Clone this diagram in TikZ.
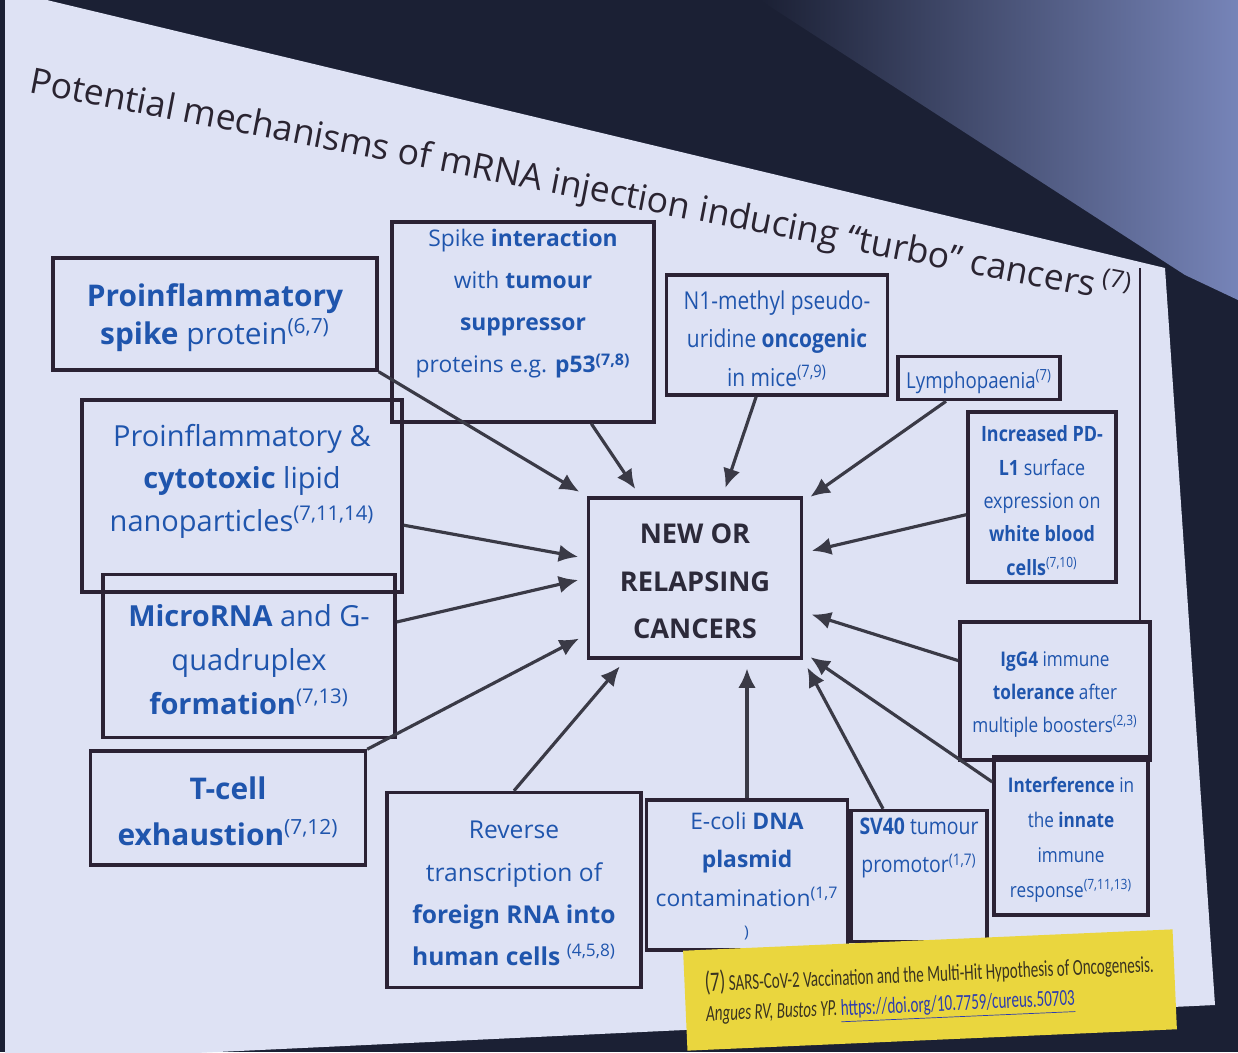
\documentclass[tikz,border=0pt]{standalone}
\usepackage{fontspec}
\setmainfont{Open Sans}
\newfontfamily\condsans[FakeStretch=0.85]{Open Sans}
\newfontfamily\notefont[FakeStretch=0.66]{Carlito}
\usetikzlibrary{arrows.meta}
\definecolor{bgdark}{HTML}{1B2034}
\definecolor{blurblue}{HTML}{7684B8}
\definecolor{slidebg}{HTML}{DEE2F4}
\definecolor{boxline}{HTML}{2B2234}
\definecolor{txtblue}{HTML}{1F55AD}
\definecolor{titlecol}{HTML}{2A2431}
\definecolor{arrowcol}{HTML}{3A3A46}
\definecolor{noteyellow}{HTML}{EAD63E}
\definecolor{notetext}{HTML}{3A3420}
\definecolor{linkblue}{HTML}{2C3CB0}
\definecolor{cancertxt}{HTML}{2C2A3A}
% box contents: [pos]{height}{width}{text}
\newcommand{\boxtext}[4][c]{\parbox[c][#2][#1]{#3}{\centering\vspace*{4pt}#4\par}}
\begin{document}
\begin{tikzpicture}[x=0.02cm, y=-0.02cm,
  box/.style={draw=boxline, line width=2pt, inner sep=0pt, text=txtblue},
  arr/.style={draw=arrowcol, line width=1.8pt, -{Latex[length=11pt,width=10pt]}, shorten >=5pt},
  note/.style={fill=noteyellow, inner sep=6pt, minimum width=9.8cm, minimum height=2cm,
    align=left, text=notetext, font=\notefont\fontsize{13}{17}\selectfont}]
\useasboundingbox (0,0) rectangle (1238,1052);
% Room and slide
\fill[bgdark] (0,0) rectangle (1238,1052);
\shade[left color=bgdark, right color=blurblue] (760,0) -- (1238,0) -- (1238,300) -- (1185,275) -- cycle;
\fill[slidebg] (5,-10) -- (1165,268) -- (1215,1005) -- (5,1062) -- cycle;
% Title, slanted like the slide
\node[anchor=base west, rotate=-10.9, inner sep=0pt, text=titlecol, font=\fontsize{20.2}{24}\selectfont] (title) at (28,92)
  {Potential mechanisms of mRNA injection inducing “turbo” cancers\,\textsuperscript{(7)}};
\coordinate (frametop) at (1140,268);
% Centre box
\node[box, text=cancertxt, font=\bfseries\fontsize{15.5}{27}\selectfont] (cancer) at (695,578)
  {\boxtext{3.2cm}{4.26cm}{NEW OR\\ RELAPSING\\ CANCERS}};
% Top row
\node[box, font=\fontsize{17}{22}\selectfont] (spike) at (215,314)
  {\boxtext{2.24cm}{6.48cm}{\textbf{Proinflammatory}\\ \textbf{spike} protein\textsuperscript{(6,7)}}};
\node[box, font=\fontsize{13}{24}\selectfont] (spikeint) at (523,322)
  {\boxtext[t]{4.0cm}{5.24cm}{Spike \textbf{interaction}\\ with \textbf{tumour}\\ \textbf{suppressor}\\ proteins e.g. \textbf{p53\textsuperscript{(7,8)}}}};
\node[box, font=\condsans\fontsize{14}{22}\selectfont] (n1) at (777,335)
  {\boxtext{2.4cm}{4.42cm}{N1-methyl pseudo-\\ uridine \textbf{oncogenic}\\ in mice\textsuperscript{(7,9)}}};
\node[box, font=\condsans\fontsize{12.5}{15}\selectfont] (lymph) at (979,378)
  {\boxtext{0.86cm}{3.24cm}{Lymphopaenia\textsuperscript{(7)}}};
% Right column
\node[box, font=\condsans\fontsize{12}{19}\selectfont] (pdl1) at (1042,497)
  {\boxtext{3.4cm}{2.96cm}{\textbf{Increased PD-}\\ \textbf{L1} surface\\ expression on\\ \textbf{white blood}\\ \textbf{cells}\textsuperscript{(7,10)}}};
\node[box, font=\condsans\fontsize{11.5}{19}\selectfont] (igg4) at (1055,691)
  {\boxtext{2.76cm}{3.8cm}{\textbf{IgG4} immune\\ \textbf{tolerance} after\\ multiple boosters\textsuperscript{(2,3)}}};
\node[box, font=\condsans\fontsize{11.5}{20}\selectfont] (interf) at (1071,836)
  {\boxtext{3.16cm}{3.08cm}{\textbf{Interference} in\\ the \textbf{innate}\\ immune\\ response\textsuperscript{(7,11,13)}}};
\draw[boxline, line width=1pt] (frametop) -- (frametop |- igg4.north);
% Left column
\node[box, font=\fontsize{16.5}{24}\selectfont] (lipid) at (242,496)
  {\boxtext[t]{3.84cm}{6.4cm}{\vspace*{10pt}Proinflammatory \&\\ \textbf{cytotoxic} lipid\\ nanoparticles\textsuperscript{(7,11,14)}}};
\node[box, font=\fontsize{16.5}{25}\selectfont] (microrna) at (249,656)
  {\boxtext{3.26cm}{5.84cm}{\textbf{MicroRNA} and G-\\ quadruplex\\ \textbf{formation}\textsuperscript{(7,13)}}};
\node[box, font=\fontsize{17}{26}\selectfont] (tcell) at (228,808)
  {\boxtext{2.28cm}{5.5cm}{\textbf{T-cell}\\ \textbf{exhaustion}\textsuperscript{(7,12)}}};
% Bottom row
\node[box, font=\fontsize{14}{24}\selectfont] (reverse) at (514,890)
  {\boxtext{3.9cm}{5.08cm}{Reverse\\ transcription of\\ \textbf{foreign RNA into}\\ \textbf{human cells} \textsuperscript{(4,5,8)}}};
\node[box, font=\fontsize{13}{22}\selectfont] (ecoli) at (747,875)
  {\boxtext{3.0cm}{4.02cm}{E-coli \textbf{DNA}\\ \textbf{plasmid}\\ contamination\textsuperscript{(1,7}\\ \textsuperscript{)}}};
\node[box, font=\condsans\fontsize{13}{22}\selectfont] (sv40) at (919,876)
  {\boxtext[t]{2.62cm}{2.72cm}{\textbf{SV40} tumour\\ promotor\textsuperscript{(1,7)}}};
% Arrows into the centre box
\foreach \src/\dst in {spike.south east/cancer.north west, spikeint/cancer, n1/cancer,
    lymph/cancer, pdl1/cancer, igg4/cancer, interf/cancer, sv40/cancer.south east,
    reverse.north/cancer, tcell.north east/cancer, microrna/cancer.west, lipid/cancer}
  \draw[arr] (\src) -- (\dst);
\draw[arr] (ecoli.north) -- (ecoli.north |- cancer.south);
% Yellow reference note
\node[note, rotate=2.5] (ref7) at (930,990)
  {{\fontsize{16}{17}\selectfont(7)} SARS-CoV-2 Vaccination and the Multi-Hit Hypothesis of Oncogenesis.\\
   \textit{Angues RV, Bustos YP.} \textcolor{linkblue}{\underline{https://doi.org/10.7759/cureus.50703}}};
\end{tikzpicture}
\end{document}
